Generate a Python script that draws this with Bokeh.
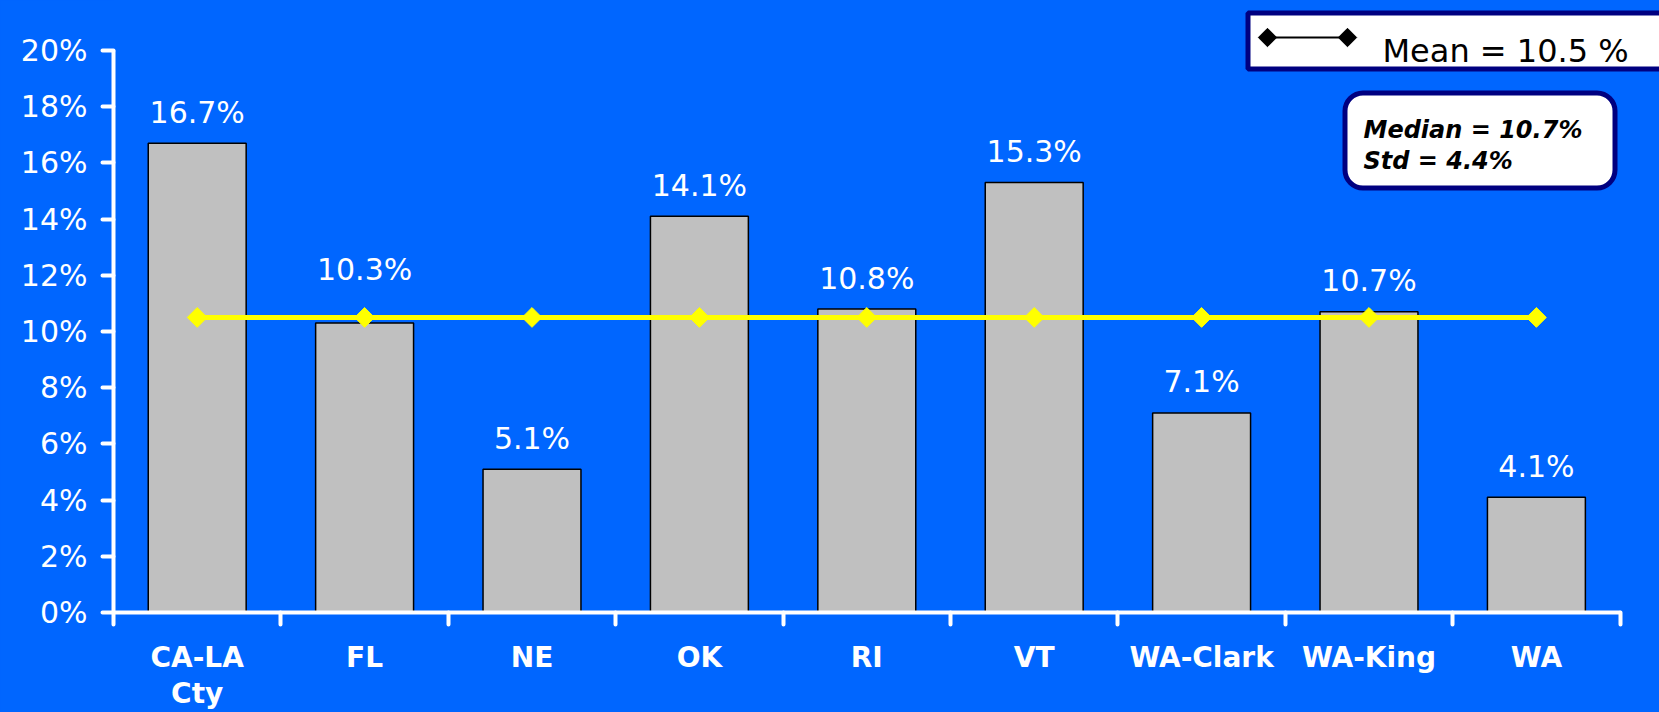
import numpy as np
from bokeh.plotting import figure
from bokeh.models import (Range1d, FixedTicker, BoxAnnotation, Label)
from bokeh.core.properties import value
from bokeh.embed import file_html
from bokeh.resources import INLINE

# ---------------- data ----------------
categories = ["CA-LA\nCty", "FL", "NE", "OK", "RI", "VT", "WA-Clark", "WA-King", "WA"]
rates = [16.7, 10.3, 5.1, 14.1, 10.8, 15.3, 7.1, 10.7, 4.1]
mean_rate = 10.5
median_rate = 10.7
std_rate = 4.4
y_ticks = [0, 2, 4, 6, 8, 10, 12, 14, 16, 18, 20]

# ---------------- layout constants (page pixels) ----------------
W, H = 1659, 712
X0_PX = 113        # page x of category 0 boundary (frame left)
CAT_PX = 167.4     # pixels per category
Y0_PX = 612        # page y of 0 % (frame bottom)
UNIT_PX = 28.1     # pixels per 1 %

x_end = (W - X0_PX) / CAT_PX
y_end = Y0_PX / UNIT_PX

def dx(px):
    return (px - X0_PX) / CAT_PX

def dy(py):
    return (Y0_PX - py) / UNIT_PX

BG = "#0066FF"
NAVY = "#000080"

p = figure(width=W, height=H, output_backend="svg", toolbar_location=None,
           x_range=Range1d(0, x_end), y_range=Range1d(0, y_end),
           min_border_left=X0_PX, min_border_right=0,
           min_border_top=0, min_border_bottom=H - Y0_PX)
p.background_fill_color = BG
p.border_fill_color = BG
p.outline_line_color = None
p.xgrid.visible = False
p.ygrid.visible = False

n = len(categories)
centers = [i + 0.5 for i in range(n)]

# bars
p.vbar(x=centers, top=rates, width=0.585, bottom=0,
       fill_color="#C0C0C0", line_color="black", line_width=1.5)

# mean line
p.line(centers, [mean_rate] * n, line_color="#FFFF00", line_width=5)
p.scatter(centers, [mean_rate] * n, marker="square", angle=np.pi / 4,
          size=14, fill_color="#FFFF00", line_color="#FFFF00")

# value labels (a label whose bar ends just under the mean line is lifted above it)
label_anchor = [v if (v >= mean_rate or v < mean_rate - 1.5) else mean_rate + 0.6
                for v in rates]
p.text(x=centers, y=label_anchor, text=[f"{v:.1f}%" for v in rates],
       text_align="center", text_baseline="alphabetic", y_offset=-31,
       text_font=value("DejaVu Sans"), text_font_size="30px", text_color="white")

# ---------------- axes ----------------
yax = p.yaxis[0]
yax.ticker = FixedTicker(ticks=y_ticks, minor_ticks=[])
yax.major_label_overrides = {t: f"{t}%" for t in y_ticks}
yax.bounds = (0, 20)
yax.axis_line_color = "white"
yax.axis_line_width = 4
yax.major_tick_line_color = "white"
yax.major_tick_line_width = 4
yax.major_tick_line_cap = "round"
yax.major_tick_out = 11
yax.major_tick_in = 0
yax.minor_tick_line_color = None
yax.major_label_text_color = "white"
yax.major_label_text_font = "DejaVu Sans"
yax.major_label_text_font_size = "30px"
yax.major_label_standoff = 15

xax = p.xaxis[0]
xax.ticker = FixedTicker(ticks=centers, minor_ticks=list(range(n + 1)))
xax.major_label_overrides = {c: lab for c, lab in zip(centers, categories)}
xax.bounds = (0, n)
xax.axis_line_color = "white"
xax.axis_line_width = 4
xax.major_tick_line_color = None
xax.major_tick_out = 0
xax.major_tick_in = 0
xax.minor_tick_line_color = "white"
xax.minor_tick_line_width = 4
xax.minor_tick_line_cap = "round"
xax.minor_tick_out = 12
xax.minor_tick_in = 0
xax.major_label_text_color = "white"
xax.major_label_text_font = "DejaVu Sans"
xax.major_label_text_font_style = "bold"
xax.major_label_text_font_size = "28px"
xax.major_label_text_line_height = 1.1
xax.major_label_standoff = 16

# ---------------- legend box ----------------
p.add_layout(BoxAnnotation(left=dx(1247.5), right=dx(1680), top=dy(12.5), bottom=dy(68.5),
                           fill_color="white", fill_alpha=1.0, level="underlay",
                           line_color=NAVY, line_width=5, line_alpha=1.0))
p.line([dx(1267), dx(1347)], [dy(37), dy(37)], line_color="black", line_width=2)
p.scatter([dx(1267), dx(1347)], [dy(37), dy(37)], marker="square", angle=np.pi / 4,
          size=13, fill_color="black", line_color="black")
p.add_layout(Label(x=dx(1382), y=dy(50), text=f"Mean =  {mean_rate} %",
                   text_font="DejaVu Sans", text_font_size="32px", text_color="black",
                   text_baseline="alphabetic"))

# ---------------- median / std box ----------------
p.add_layout(BoxAnnotation(left=dx(1344.5), right=dx(1614.5), top=dy(92.5), bottom=dy(187.5),
                           fill_color="white", fill_alpha=1.0, border_radius=18,
                           line_color=NAVY, line_width=5, line_alpha=1.0))
p.add_layout(Label(x=dx(1363), y=dy(129), text=f"Median = {median_rate}%",
                   text_font="DejaVu Sans", text_font_size="24px", text_font_style="bold italic",
                   text_color="black", text_baseline="alphabetic"))
p.add_layout(Label(x=dx(1363), y=dy(160), text=f"Std = {std_rate}%",
                   text_font="DejaVu Sans", text_font_size="24px", text_font_style="bold italic",
                   text_color="black", text_baseline="alphabetic"))

template = """
{% block preamble %}
<style>html, body { background-color: #0066FF; margin: 0; padding: 0; overflow: hidden; }</style>
{% endblock %}
"""

open("out.html", "w").write(file_html(p, INLINE, template=template))
